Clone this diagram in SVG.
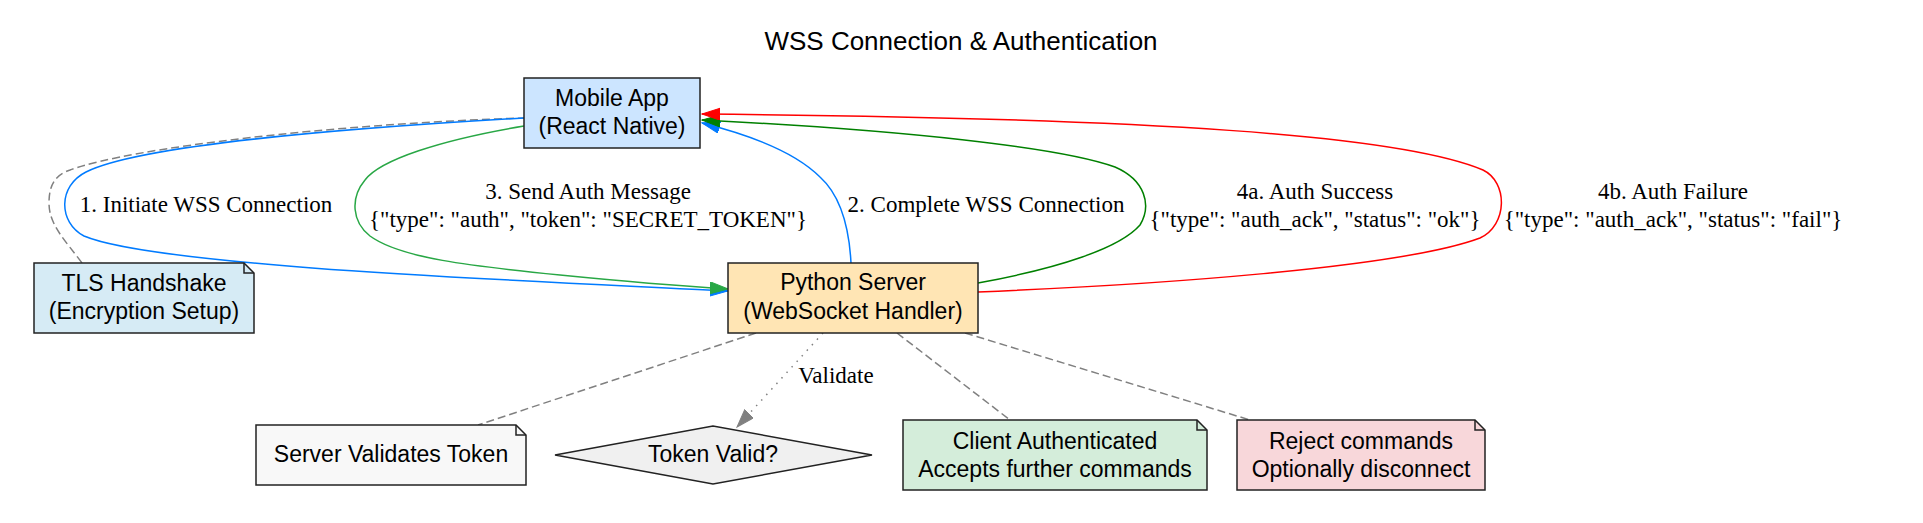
<svg xmlns="http://www.w3.org/2000/svg" width="1923" height="523" viewBox="0 0 1923 523">
<style>
.node{stroke:#222;stroke-width:1.5}
.nt{font-family:"Liberation Sans",Arial,sans-serif;font-size:23px;fill:#000;text-anchor:middle}
.et{font-family:"Liberation Serif","Times New Roman",serif;font-size:23px;fill:#000;text-anchor:middle}
.title{font-family:"Liberation Sans",Arial,sans-serif;font-size:26px;fill:#000;text-anchor:middle}
.e{fill:none;stroke-width:1.5}
.dash{stroke:#808080;stroke-dasharray:8,4}
</style>
<defs>
<marker id="ablue" markerUnits="userSpaceOnUse" markerWidth="20" markerHeight="14" refX="18" refY="6" orient="auto"><path d="M0,0 L18,6 L0,12 z" fill="#007bff" stroke="#007bff"/></marker>
<marker id="agreen" markerUnits="userSpaceOnUse" markerWidth="20" markerHeight="14" refX="18" refY="6" orient="auto"><path d="M0,0 L18,6 L0,12 z" fill="#28a745" stroke="#28a745"/></marker>
<marker id="adkgreen" markerUnits="userSpaceOnUse" markerWidth="20" markerHeight="14" refX="18" refY="6" orient="auto"><path d="M0,0 L18,6 L0,12 z" fill="#008000" stroke="#008000"/></marker>
<marker id="ared" markerUnits="userSpaceOnUse" markerWidth="20" markerHeight="14" refX="18" refY="6" orient="auto"><path d="M0,0 L18,6 L0,12 z" fill="#ff0000" stroke="#ff0000"/></marker>
<marker id="agray" markerUnits="userSpaceOnUse" markerWidth="20" markerHeight="14" refX="18" refY="6" orient="auto"><path d="M0,0 L18,6 L0,12 z" fill="#808080" stroke="#808080"/></marker>
</defs>
<rect width="1923" height="523" fill="#fff"/>
<text class="title" x="961" y="50">WSS Connection &amp; Authentication</text>

<g id="connectors">
<path class="e dash" d="M82,263 C65,240 49,225 49,203 C49,185 55,175 70,170 C130,148 330,124 524,118"/>
<path class="e" stroke="#007bff" d="M524,118 C420,124 150,140 86,172 C58,186 58,222 84,236 C160,268 560,282 728,291" marker-end="url(#ablue)"/>
<path class="e" stroke="#28a745" d="M524,126 C440,140 380,160 365,180 C350,198 352,222 370,236 C400,258 470,266 560,275 C620,281 680,286 728,289" marker-end="url(#agreen)"/>
<path class="e" stroke="#007bff" d="M851,263 C849,225 840,195 820,177 C795,152 750,135 702,123" marker-end="url(#ablue)"/>
<path class="e" stroke="#008000" d="M978,283 C1060,268 1120,248 1140,225 C1152,205 1145,180 1115,167 C1060,147 900,130 702,120" marker-end="url(#adkgreen)"/>
<path class="e" stroke="#ff0000" d="M978,292 C1150,285 1400,268 1480,238 C1508,225 1508,182 1483,170 C1400,135 1150,118 702,114" marker-end="url(#ared)"/>
<path class="e dash" d="M756,333 L478,425"/>
<path class="e" stroke="#808080" stroke-dasharray="1.5,6" d="M823,333 L737,427" marker-end="url(#agray)"/>
<path class="e dash" d="M897,333 L1010,420"/>
<path class="e dash" d="M965,333 L1250,420"/>
<text class="et" x="206" y="212">1. Initiate WSS Connection</text>
<text class="et" x="588" y="198.5">3. Send Auth Message</text>
<text class="et" x="588" y="226.5">{"type": "auth", "token": "SECRET_TOKEN"}</text>
<text class="et" x="986" y="212">2. Complete WSS Connection</text>
<text class="et" x="1315" y="198.5">4a. Auth Success</text>
<text class="et" x="1315" y="226.5">{"type": "auth_ack", "status": "ok"}</text>
<text class="et" x="1673" y="198.5">4b. Auth Failure</text>
<text class="et" x="1673" y="226.5">{"type": "auth_ack", "status": "fail"}</text>
<text class="et" x="836" y="383">Validate</text>
</g>

<g id="mobile">
<rect class="node" x="524" y="78" width="176" height="70" fill="#cce5ff"/>
<text class="nt" x="612" y="106">Mobile App</text>
<text class="nt" x="612" y="134">(React Native)</text>
</g>

<g id="server">
<rect class="node" x="728" y="263" width="250" height="70" fill="#ffe5b4"/>
<text class="nt" x="853" y="290">Python Server</text>
<text class="nt" x="853" y="318.5">(WebSocket Handler)</text>
</g>

<g id="tls">
<path class="node" d="M34,263 L244,263 L254,273 L254,333 L34,333 Z" fill="#d6ebf5"/>
<path class="node" fill="none" d="M244,263 L244,273 L254,273"/>
<text class="nt" x="144" y="291">TLS Handshake</text>
<text class="nt" x="144" y="319">(Encryption Setup)</text>
</g>

<g id="validates">
<path class="node" d="M256,425 L516,425 L526,435 L526,485 L256,485 Z" fill="#f8f8f8"/>
<path class="node" fill="none" d="M516,425 L516,435 L526,435"/>
<text class="nt" x="391" y="462">Server Validates Token</text>
</g>

<g id="decision">
<path class="node" d="M555,455 L713,426 L872,455 L713,484 Z" fill="#f0f0f0"/>
<text class="nt" x="713" y="462">Token Valid?</text>
</g>

<g id="authenticated">
<path class="node" d="M903,420 L1197,420 L1207,430 L1207,490 L903,490 Z" fill="#d4edda"/>
<path class="node" fill="none" d="M1197,420 L1197,430 L1207,430"/>
<text class="nt" x="1055" y="449">Client Authenticated</text>
<text class="nt" x="1055" y="476.5">Accepts further commands</text>
</g>

<g id="reject">
<path class="node" d="M1237,420 L1475,420 L1485,430 L1485,490 L1237,490 Z" fill="#f8d7da"/>
<path class="node" fill="none" d="M1475,420 L1475,430 L1485,430"/>
<text class="nt" x="1361" y="449">Reject commands</text>
<text class="nt" x="1361" y="476.5">Optionally disconnect</text>
</g>
</svg>
